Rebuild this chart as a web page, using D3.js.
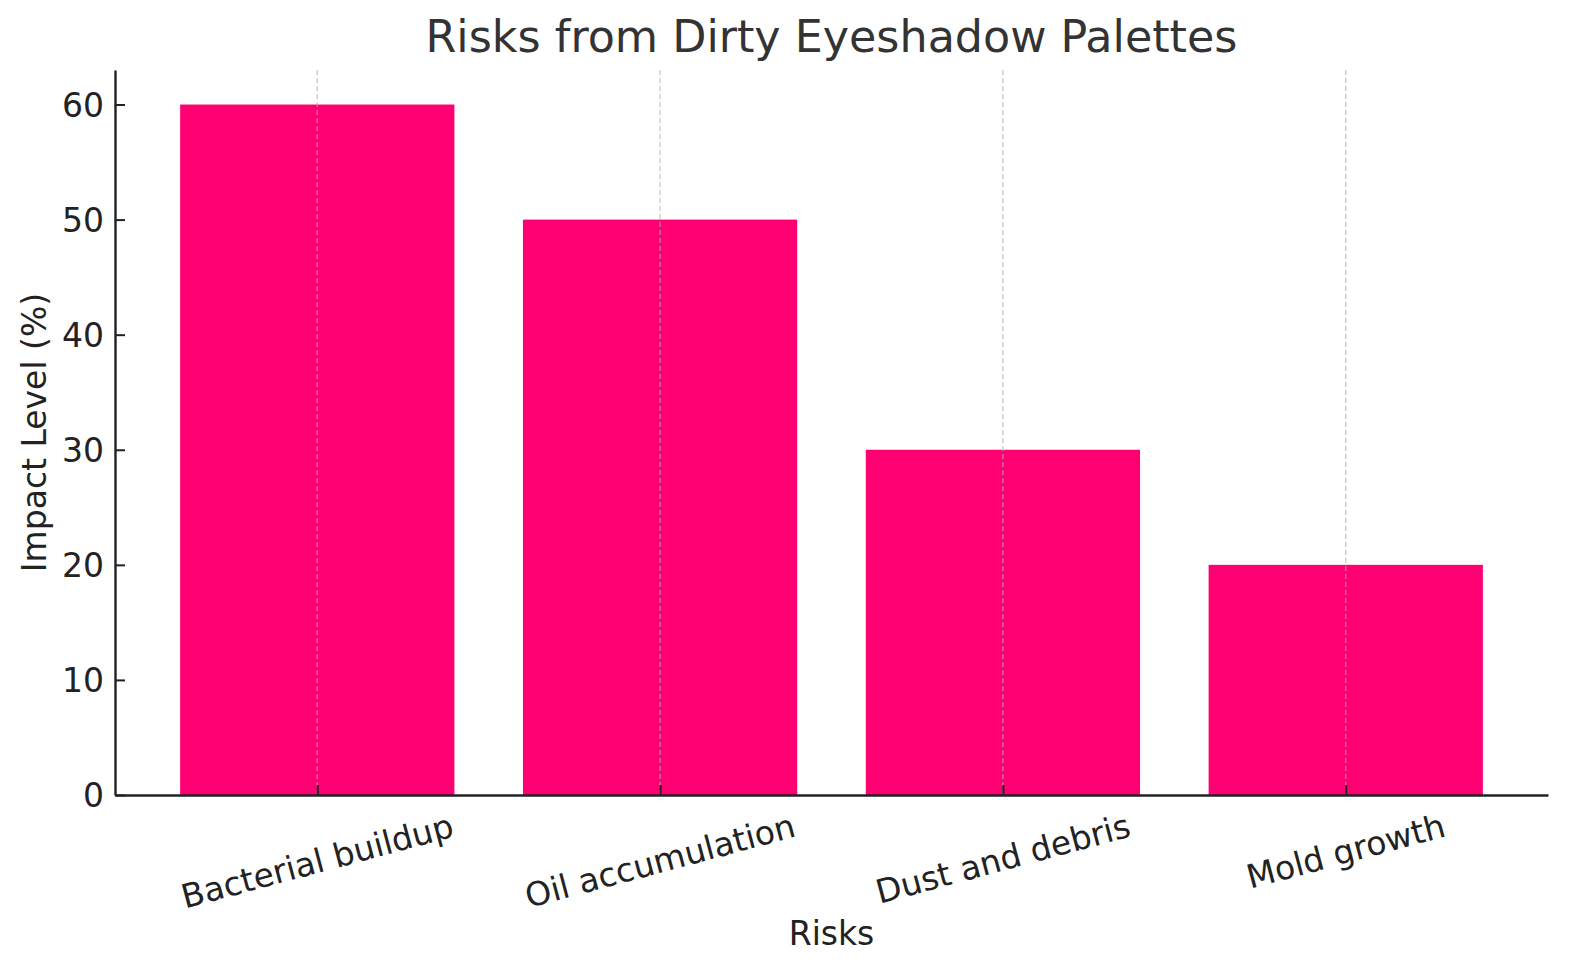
<!DOCTYPE html>
<html>
<head>
<meta charset="utf-8">
<script src="https://cdn.jsdelivr.net/npm/d3@7"></script>
<style>
  body { margin: 0; background: #fff; }
  text { font-family: "DejaVu Sans", sans-serif; }
</style>
</head>
<body>
<svg id="chart" width="1580" height="980"></svg>
<script>
const risks = ["Bacterial buildup", "Oil accumulation", "Dust and debris", "Mold growth"];
const impact = [60, 50, 30, 20];
const yTicks = [0, 10, 20, 30, 40, 50, 60];

const svg = d3.select("#chart");
const margin = {top: 70, right: 32, bottom: 185, left: 115};
const width = 1580, height = 980;
const x0 = margin.left, x1 = width - margin.right;
const y0 = height - margin.bottom, y1 = margin.top;

// bar index positions with matplotlib-like 5% margins
const x = d3.scaleLinear().domain([-0.59, risks.length - 1 + 0.59]).range([x0, x1]);
const barW = 0.8;
const y = d3.scaleLinear().domain([0, 63]).range([y0, y1]);

const g = svg.append("g");

// bars
g.selectAll(".bar")
  .data(impact)
  .join("rect")
  .attr("class", "bar")
  .attr("x", (d, i) => x(i - barW / 2))
  .attr("width", x(barW) - x(0))
  .attr("y", d => y(d))
  .attr("height", d => y(0) - y(d))
  .attr("fill", "#ff0073");

// vertical dashed grid, drawn over the bars
g.selectAll(".grid")
  .data(risks)
  .join("line")
  .attr("class", "grid")
  .attr("x1", (d, i) => x(i)).attr("x2", (d, i) => x(i))
  .attr("y1", y0).attr("y2", y1)
  .attr("stroke", "#b0b0b0")
  .attr("stroke-opacity", 0.7)
  .attr("stroke-width", 1.3)
  .attr("stroke-dasharray", "5,3");

// y axis, ticks pointing in
const yAxis = d3.axisLeft(y).tickValues(yTicks).tickSizeInner(-10).tickSizeOuter(0).tickPadding(11);
const ya = svg.append("g").attr("transform", `translate(${x0},0)`).call(yAxis);
ya.select(".domain").attr("stroke", "#222").attr("stroke-width", 2.4);
ya.selectAll(".tick line").attr("stroke", "#222").attr("stroke-width", 2);
ya.selectAll(".tick text").attr("font-size", 33).attr("fill", "#222")
  .attr("font-family", "DejaVu Sans").attr("dy", "0.36em");

// x axis, ticks pointing in
const xAxis = d3.axisBottom(x).tickValues(d3.range(risks.length)).tickSizeInner(-10).tickSizeOuter(0).tickFormat(() => "");
const xa = svg.append("g").attr("transform", `translate(0,${y0})`).call(xAxis);
xa.select(".domain").attr("stroke", "#222").attr("stroke-width", 2.4);
xa.selectAll(".tick line").attr("stroke", "#222").attr("stroke-width", 2);

// rotated category labels, bbox top just below the axis
const fs = 33, ang = 15, rad = ang * Math.PI / 180;
svg.append("g").selectAll(".xlab")
  .data(risks)
  .join("text")
  .attr("class", "xlab")
  .attr("font-size", fs)
  .attr("fill", "#222")
  .attr("text-anchor", "middle")
  .attr("dominant-baseline", "central")
  .text(d => d)
  .each(function(d, i) {
    const L = this.getComputedTextLength();
    const h = fs * 1.0;
    const H = L * Math.sin(rad) + h * Math.cos(rad);
    const cy = y0 + 14 + H / 2;
    d3.select(this).attr("transform", `translate(${x(i)},${cy}) rotate(${-ang})`);
  });

// axis titles
svg.append("text")
  .attr("x", (x0 + x1) / 2).attr("y", 945)
  .attr("text-anchor", "middle")
  .attr("font-size", 33).attr("fill", "#222")
  .text("Risks");

svg.append("text")
  .attr("transform", `translate(46,${(y0 + y1) / 2}) rotate(-90)`)
  .attr("text-anchor", "middle")
  .attr("font-size", 33).attr("fill", "#222")
  .text("Impact Level (%)");

// title
svg.append("text")
  .attr("x", (x0 + x1) / 2).attr("y", 52)
  .attr("text-anchor", "middle")
  .attr("font-size", 44.4).attr("fill", "#333")
  .text("Risks from Dirty Eyeshadow Palettes");
</script>
</body>
</html>
